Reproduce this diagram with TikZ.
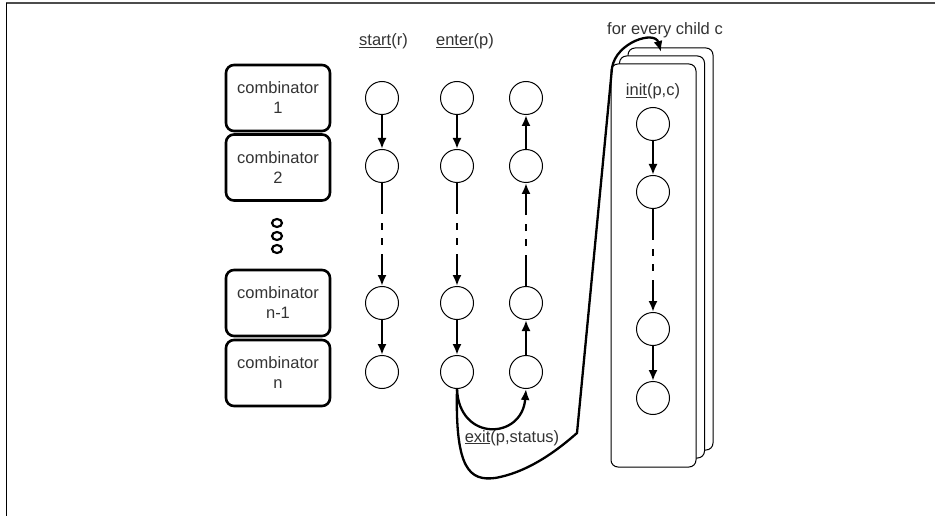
\documentclass[tikz,border=0pt]{standalone}
\usepackage{fontspec}
\setmainfont{Liberation Sans}
\usetikzlibrary{arrows.meta}

\tikzset{
  state/.style={circle, draw, line width=1pt, minimum size=33pt, inner sep=0pt},
  combbox/.style={draw, line width=2.6pt, rounded corners=8pt, minimum width=104pt,
    minimum height=66pt, align=center, text=black!80},
  flow/.style={line width=2.3pt, -{Latex[length=11pt,width=9pt]}},
  gapflow/.style={flow, dash pattern=on 31pt off 9pt on 7pt off 8pt on 7pt off 9pt on 60pt},
  card/.style={draw, line width=1pt, rounded corners=7pt, fill=white},
  lbl/.style={text=black!80, anchor=base},
}

\begin{document}
\begin{tikzpicture}[x=1pt, y=-1pt, font=\fontsize{16.5}{20}\selectfont]
    \useasboundingbox (0,0) rectangle (935,516);

    % Frame
    \draw[line width=2.5pt, gray!60!black] (6,3) -- (935,3);
    \draw[line width=1.5pt] (6.5,3) -- (6.5,516);

    % Combinators
    \node[combbox] (comb1) at (278,98) {combinator\\1};
    \node[combbox] (comb2) at (278,167.5) {combinator\\2};
    \node[combbox] (comb3) at (278,303) {combinator\\n-1};
    \node[combbox] (comb4) at (278,373) {combinator\\n};
    \foreach \y in {223,236,249}
        \draw[line width=2.2pt] (277,\y) ellipse (5 and 4);

    % Stack of children
    \draw[card] (628,48) rectangle (713,450);
    \draw[card] (619.5,56) rectangle (704.5,458);
    \draw[card] (611,64) rectangle (696,467);

    % States
    \foreach \y [count=\i] in {98,166,303,372} {
        \node[state] (s\i) at (382,\y) {};
        \node[state] (e\i) at (457,\y) {};
        \node[state] (x\i) at (526,\y) {};
    }
    \foreach \y [count=\i] in {124,192,329,398}
        \node[state] (c\i) at (653,\y) {};

    % Labels
    \node[lbl] (startlbl) at (383.5,46) {\underline{start}(r)};
    \node[lbl] (enterlbl) at (465,46) {\underline{enter}(p)};
    \node[lbl] (childlbl) at (665,35) {for every child c};
    \node[lbl] (initlbl) at (653,96) {\underline{init}(p,c)};
    \node[lbl] (exitlbl) at (512,442) {\underline{exit}(p,status)};

    % Down columns
    \draw[flow] (s1) -- (s2);
    \draw[gapflow] (s2) -- (s3);
    \draw[flow] (s3) -- (s4);
    \draw[flow] (e1) -- (e2);
    \draw[gapflow] (e2) -- (e3);
    \draw[flow] (e3) -- (e4);
    \draw[flow] (c1) -- (c2);
    \draw[gapflow] (c2) -- (c3);
    \draw[flow] (c3) -- (c4);

    % Up column
    \draw[flow] (x2) -- (x1);
    \draw[gapflow] (x3) -- (x2);
    \draw[flow] (x4) -- (x3);

    % Exit and child loops
    \coordinate (bend) at (577,433);
    \coordinate (rise) at (612,68);
    \coordinate (drop) at (661,52);
    \draw[flow] (e4.south) .. controls (459,442) and (522,440) .. (x4.south);
    \draw[flow] (e4.south) .. controls (455,470) and (470,481) .. (495,478)
        .. controls (530,472) and (560,448) .. (bend) -- (rise)
        .. controls (616,42) and (655,30) .. (drop);
\end{tikzpicture}
\end{document}
